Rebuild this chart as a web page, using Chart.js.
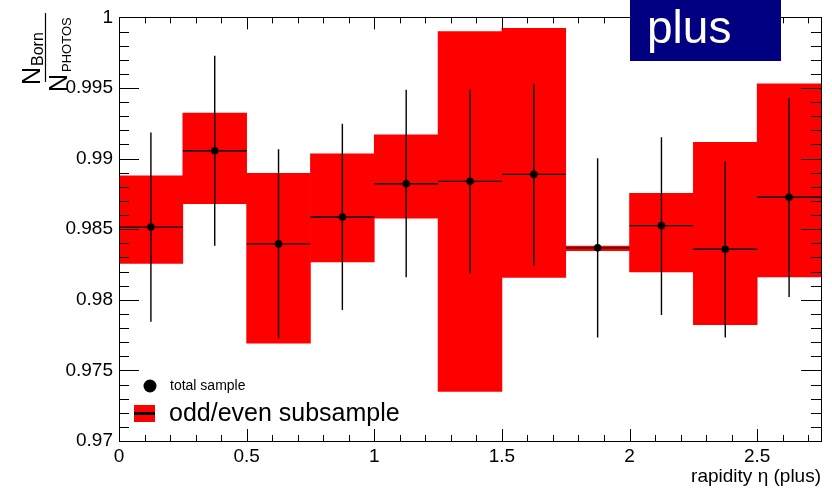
<!DOCTYPE html>
<html><head><meta charset="utf-8">
<script src="https://cdn.jsdelivr.net/npm/chart.js@4.4.0/dist/chart.umd.min.js"></script>
<style>html,body{margin:0;padding:0;background:#fff}#wrap{width:832px;height:488px;position:relative}</style>
</head><body><div id="wrap"><canvas id="c"></canvas></div>
<script>
// ---- data ----
const binEdges    = [0, 0.25, 0.5, 0.75, 1, 1.25, 1.5, 1.75, 2, 2.25, 2.5, 2.75];
const binCenters  = [0.125, 0.375, 0.625, 0.875, 1.125, 1.375, 1.625, 1.875, 2.125, 2.375, 2.625];
const totalValue  = [0.98515, 0.99056, 0.98396, 0.98586, 0.98822, 0.98839, 0.98888, 0.98368, 0.98525, 0.98358, 0.98726];
const totalErrHigh= [0.99185, 0.99728, 0.99066, 0.99246, 0.99487, 0.99489, 0.99529, 0.99002, 0.99152, 0.98981, 0.99429];
const totalErrLow = [0.97845, 0.98382, 0.97726, 0.97927, 0.98159, 0.98185, 0.98243, 0.97733, 0.97892, 0.97733, 0.98019];
const bandHigh    = [0.98878, 0.99323, 0.98895, 0.99033, 0.99169, 0.99899, 0.99923, 0.98381, 0.98754, 0.99115, 0.99529];
const bandLow     = [0.98258, 0.98681, 0.97693, 0.98269, 0.98579, 0.97351, 0.98159, 0.98348, 0.98197, 0.97824, 0.98162];
const xTickLabels = ['0', '0.5', '1', '1.5', '2', '2.5'];
const yTickLabels = ['0.97', '0.975', '0.98', '0.985', '0.99', '0.995', '1'];
const legendLabels = ['total sample', 'odd/even subsample'];
const xTitle = 'rapidity \u03b7 (plus)';
const boxLabel = 'plus';

const FONT = '"Liberation Sans", Arial, Helvetica, sans-serif';

const rootPlugin = {
  id: 'rootStyle',
  afterDatasetDraw(chart, args) {
    if (args.index !== 0) return;
    const ctx = chart.ctx, xs = chart.scales.x, ys = chart.scales.y;
    ctx.save();
    ctx.strokeStyle = '#000';
    ctx.lineWidth = 1.4;
    for (let i = 0; i < binCenters.length; i++) {
      const xc = xs.getPixelForValue(binCenters[i]);
      const x0 = xs.getPixelForValue(binEdges[i]);
      const x1 = xs.getPixelForValue(binEdges[i + 1]);
      const y = ys.getPixelForValue(totalValue[i]);
      ctx.beginPath();
      ctx.moveTo(x0, y); ctx.lineTo(x1, y);
      ctx.moveTo(xc, ys.getPixelForValue(totalErrHigh[i]));
      ctx.lineTo(xc, ys.getPixelForValue(totalErrLow[i]));
      ctx.stroke();
    }
    ctx.restore();
  },
  afterDraw(chart) {
    const ctx = chart.ctx, xs = chart.scales.x, ys = chart.scales.y;
    const a = chart.chartArea;
    ctx.save();
    // frame
    ctx.strokeStyle = '#000';
    ctx.lineWidth = 1;
    ctx.strokeRect(Math.round(a.left) + 0.5, Math.round(a.top) + 0.5, Math.round(a.right - a.left), Math.round(a.bottom - a.top));
    // y ticks (inward, both sides)
    ctx.beginPath();
    for (let k = 0; k <= 30; k++) {
      const v = 0.97 + k * 0.001;
      const y = Math.round(ys.getPixelForValue(v)) + 0.5;
      const len = (k % 5 === 0) ? 20 : 10;
      ctx.moveTo(a.left, y); ctx.lineTo(a.left + len, y);
      ctx.moveTo(a.right, y); ctx.lineTo(a.right - len, y);
    }
    // x ticks (inward, top & bottom)
    for (let k = 0; k <= 27; k++) {
      const v = k * 0.1;
      const x = Math.round(xs.getPixelForValue(v)) + 0.5;
      const len = (k % 5 === 0) ? 12 : 6;
      ctx.moveTo(x, a.bottom); ctx.lineTo(x, a.bottom - len);
      ctx.moveTo(x, a.top); ctx.lineTo(x, a.top + len);
    }
    ctx.stroke();

    // legend
    ctx.fillStyle = '#000';
    ctx.beginPath(); ctx.arc(150, 386, 6.5, 0, Math.PI * 2); ctx.fill();
    ctx.font = '14px ' + FONT;
    ctx.textBaseline = 'alphabetic';
    ctx.textAlign = 'left';
    ctx.fillText(legendLabels[0], 170, 390);
    ctx.fillStyle = '#ff0000';
    ctx.fillRect(134, 405, 21, 17);
    ctx.fillStyle = '#000';
    ctx.fillRect(134, 412, 21, 3);
    ctx.font = '25px ' + FONT;
    ctx.fillText(legendLabels[1], 169, 421);

    // y title: N_Born / N_PHOTOS (rotated)
    ctx.save();
    ctx.rotate(-Math.PI / 2);
    ctx.fillStyle = '#000';
    ctx.font = '25px ' + FONT;
    ctx.fillText('N', -85, 40);
    ctx.font = '16px ' + FONT;
    ctx.fillText('Born', -66, 43);
    ctx.font = '25px ' + FONT;
    ctx.fillText('N', -92, 67);
    ctx.font = '13px ' + FONT;
    ctx.fillText('PHOTOS', -72, 71);
    ctx.restore();
    ctx.beginPath();
    ctx.lineWidth = 1.2;
    ctx.moveTo(45.5, 13); ctx.lineTo(45.5, 82);
    ctx.stroke();

    // "plus" box
    ctx.fillStyle = '#000080';
    ctx.fillRect(630, 0, 151, 61);
    ctx.fillStyle = '#fff';
    ctx.font = '46px ' + FONT;
    ctx.fillText(boxLabel, 647, 43);
    ctx.restore();
  }
};

new Chart(document.getElementById('c'), {
  type: 'bar',
  data: {
    datasets: [
      {
        type: 'bar',
        data: binCenters.map((x, i) => ({ x: x, y: [bandLow[i], bandHigh[i]] })),
        backgroundColor: '#ff0000',
        borderWidth: 0,
        barPercentage: 1,
        categoryPercentage: 1,
        order: 2
      },
      {
        type: 'scatter',
        data: binCenters.map((x, i) => ({ x: x, y: totalValue[i] })),
        backgroundColor: '#000',
        borderColor: '#000',
        pointRadius: 3.8,
        borderWidth: 0,
        showLine: false,
        order: 1
      }
    ]
  },
  options: {
    responsive: true,
    maintainAspectRatio: false,
    devicePixelRatio: 1,
    animation: false,
    events: [],
    layout: { padding: { top: 14, right: 11, left: 0, bottom: 0 } },
    plugins: { legend: { display: false }, tooltip: { enabled: false } },
    scales: {
      x: {
        type: 'linear', position: 'bottom', min: 0, max: 2.75, offset: false,
        grid: { display: false, drawTicks: false, offset: false },
        border: { display: false },
        ticks: {
          stepSize: 0.5, includeBounds: false, padding: 4, maxRotation: 0, autoSkip: false,
          color: '#000', font: { family: FONT, size: 19 },
          callback: (v) => xTickLabels[Math.round(v / 0.5)]
        },
        title: { display: true, text: xTitle, align: 'end', color: '#000', font: { family: FONT, size: 19 }, padding: { top: 0, bottom: 0 } },
        afterFit: (s) => { s.height = 47; }
      },
      y: {
        type: 'linear', min: 0.97, max: 1,
        grid: { display: false, drawTicks: false },
        border: { display: false },
        ticks: {
          stepSize: 0.005, includeBounds: false, padding: 6, autoSkip: false,
          color: '#000', font: { family: FONT, size: 19 },
          callback: (v) => yTickLabels[Math.round((v - 0.97) / 0.005)]
        },
        afterFit: (s) => { s.width = 119; }
      }
    }
  },
  plugins: [rootPlugin]
});
</script>
</body></html>
